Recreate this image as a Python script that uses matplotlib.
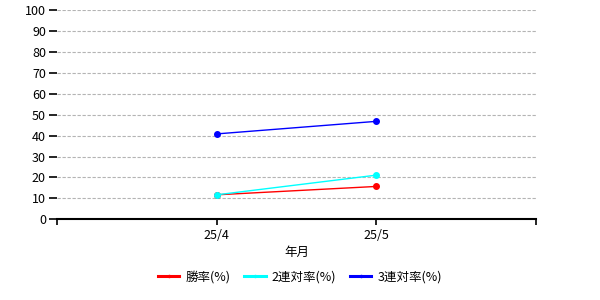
import matplotlib
matplotlib.use("Agg")
import matplotlib.pyplot as plt
from matplotlib.lines import Line2D

months = ["25/4", "25/5"]
win_rate = [11.7, 15.7]
top2_rate = [11.7, 21.1]
top3_rate = [40.8, 46.8]

SERIES = [
    ("勝率(%)", win_rate, "#ff0000"),
    ("2連対率(%)", top2_rate, "#00ffff"),
    ("3連対率(%)", top3_rate, "#0000ff"),
]

plt.rcParams["font.family"] = ["Noto Sans CJK JP", "DejaVu Sans"]
plt.rcParams["font.size"] = 9

fig = plt.figure(figsize=(6.0, 3.0), dpi=100)
ax = fig.add_axes([57 / 600, 1 - 219.3 / 300, (536 - 57) / 600, (219.3 - 10) / 300])

xs = list(range(1, len(months) + 1))
handles = []
for label, vals, color in SERIES:
    ax.plot(xs, vals, color=color, linewidth=1, marker="o", markersize=4)
    # thicker proxy line for the legend, like the original
    handles.append(Line2D([], [], color=color, linewidth=2.2, marker="o",
                          markersize=1.5, label=label))

ax.set_xlim(0, len(months) + 1)
ax.set_ylim(0, 100)
ax.set_yticks(range(0, 101, 10))
ax.set_xticks(range(0, len(months) + 2))
ax.set_xticklabels([""] + months + [""])
ax.yaxis.grid(True, linestyle=(0, (3, 1.5)), color="#b4b4b4", linewidth=0.8)
ax.set_axisbelow(True)
for s in ("top", "right", "left"):
    ax.spines[s].set_visible(False)
ax.spines["bottom"].set_linewidth(1.5)
ax.tick_params(axis="y", length=6, width=1.2, pad=2)
ax.tick_params(axis="x", length=4, width=1.2, pad=3)
ax.set_xlabel("年月", labelpad=3)

fig.legend(handles=handles, loc="center", bbox_to_anchor=(0.5, 1 - 277 / 300),
           ncol=3, frameon=False, handlelength=1.7,
           columnspacing=1.1, handletextpad=0.5)

fig.savefig("out.png", dpi=100)
